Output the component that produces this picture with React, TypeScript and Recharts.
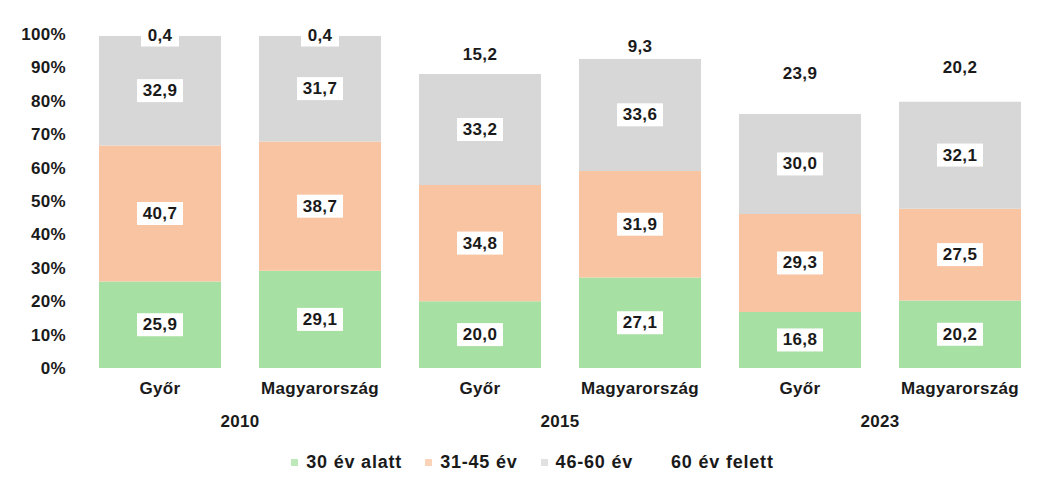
import React from "react";
import { Bar, BarChart, LabelList, Legend, XAxis, YAxis } from "recharts";

const categories = ["Győr", "Magyarország", "Győr", "Magyarország", "Győr", "Magyarország"];
const years = ["2010", "2010", "2015", "2015", "2023", "2023"];
const under30 = [25.9, 29.1, 20.0, 27.1, 16.8, 20.2];
const age31to45 = [40.7, 38.7, 34.8, 31.9, 29.3, 27.5];
const age46to60 = [32.9, 31.7, 33.2, 33.6, 30.0, 32.1];
const over60 = [0.4, 0.4, 15.2, 9.3, 23.9, 20.2];
const yTicks = [0, 10, 20, 30, 40, 50, 60, 70, 80, 90, 100];

const series = [
  { key: "under30", name: "30 év alatt", color: "#a6e0a3" },
  { key: "age31to45", name: "31-45 év", color: "#f8c4a1" },
  { key: "age46to60", name: "46-60 év", color: "#d6d7d6" },
  { key: "over60Shown", name: "60 év felett", color: "#ffffff", labelKey: "over60" },
];

const data = categories.map((name, i) => {
  const base = under30[i] + age31to45[i] + age46to60[i];
  return {
    name,
    year: years[i],
    under30: under30[i],
    age31to45: age31to45[i],
    age46to60: age46to60[i],
    over60: over60[i],
    // the top segment is cut at 100%, the label keeps the real value
    over60Shown: Math.min(over60[i], 100 - base),
  };
});

const font = {
  fontFamily: "'Liberation Sans', Arial, sans-serif",
  fontWeight: 700,
  fontSize: 17,
  letterSpacing: 0.3,
  fill: "#1a1a1a",
};

const fmt = (v: number) => v.toFixed(1).replace(".", ",");

const BoxLabel = (props: any) => {
  const { x, y, width, height, value } = props;
  const cx = x + width / 2;
  const cy = y + height / 2;
  const text = fmt(Number(value));
  const w = text.length * 8 + 14;
  return (
    <g>
      <rect x={cx - w / 2} y={cy - 11.5} width={w} height={23} fill="#fff" />
      <text x={cx} y={cy} textAnchor="middle" dominantBaseline="central" style={font}>
        {text}
      </text>
    </g>
  );
};

const HALF_BAND = 80;

const CategoryTick = (props: any) => {
  const { x, y, payload, index } = props;
  return (
    <g>
      <text x={x} y={y} dy={18} textAnchor="middle" style={font}>
        {payload.value}
      </text>
      {index % 2 === 1 && (
        <text x={x - HALF_BAND} y={y} dy={51} textAnchor="middle" style={font}>
          {years[index]}
        </text>
      )}
    </g>
  );
};

const LegendContent = () => (
  <div
    style={{
      display: "flex",
      justifyContent: "center",
      gap: 23,
      paddingLeft: 25,
      paddingTop: 4,
      fontFamily: "'Liberation Sans', Arial, sans-serif",
      fontWeight: 700,
      fontSize: 18,
      letterSpacing: 0.8,
      color: "#1a1a1a",
    }}
  >
    {series.map((s) => (
      <div key={s.key} style={{ display: "flex", alignItems: "center", gap: 8 }}>
        <span style={{ width: 7, height: 7, background: s.color, opacity: 0.75, display: "inline-block" }} />
        <span>{s.name}</span>
      </div>
    ))}
  </div>
);

export default function App() {
  return (
    <div style={{ position: "absolute", left: 0, top: 0, background: "#fff" }}>
      <BarChart
        width={1046}
        height={482}
        data={data}
        margin={{ top: 34, right: 6, left: 0, bottom: 0 }}
        barCategoryGap={19}
      >
        <YAxis
          type="number"
          domain={[0, 100]}
          ticks={yTicks}
          width={80}
          axisLine={false}
          tickLine={false}
          tickMargin={8}
          tickFormatter={(v) => `${v}%`}
          tick={font}
        />
        <XAxis dataKey="name" axisLine={false} tickLine={false} height={80} interval={0} tick={<CategoryTick />} />
        <Legend verticalAlign="bottom" height={34} content={<LegendContent />} />
        {series.map((s) => (
          <Bar key={s.key} dataKey={s.key} name={s.name} stackId="a" fill={s.color} isAnimationActive={false}>
            <LabelList dataKey={s.labelKey ?? s.key} content={<BoxLabel />} />
          </Bar>
        ))}
      </BarChart>
    </div>
  );
}
